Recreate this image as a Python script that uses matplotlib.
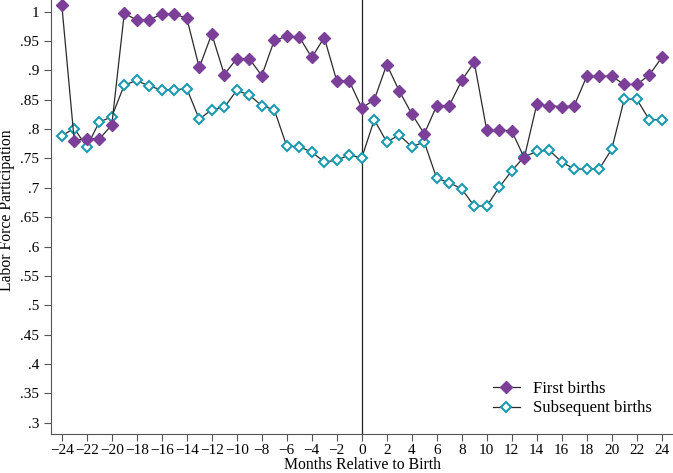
import numpy as np
import matplotlib.pyplot as plt

plt.rcParams['font.family'] = ['Liberation Serif', 'DejaVu Serif']

months = np.arange(-24, 25)
first = [1.012, 0.780, 0.784, 0.783, 0.807, 0.997, 0.986, 0.986, 0.996, 0.996,
         0.989, 0.905, 0.962, 0.893, 0.920, 0.920, 0.891, 0.951, 0.958, 0.957,
         0.922, 0.956, 0.882, 0.882, 0.836, 0.850, 0.910, 0.865, 0.826, 0.792,
         0.840, 0.840, 0.883, 0.914, 0.798, 0.798, 0.797, 0.751, 0.842, 0.840,
         0.838, 0.840, 0.890, 0.890, 0.890, 0.876, 0.876, 0.892, 0.922]
subsequent = [0.789, 0.801, 0.770, 0.812, 0.821, 0.875, 0.883, 0.873, 0.867, 0.867,
              0.869, 0.817, 0.833, 0.837, 0.866, 0.858, 0.840, 0.833, 0.771, 0.770,
              0.761, 0.744, 0.747, 0.756, 0.751, 0.816, 0.778, 0.790, 0.770, 0.778,
              0.716, 0.709, 0.698, 0.669, 0.669, 0.701, 0.729, 0.753, 0.762, 0.764,
              0.744, 0.732, 0.732, 0.732, 0.766, 0.851, 0.851, 0.816, 0.816]

yticks = np.arange(0.3, 1.0001, 0.05)
ylabels = ['1' if abs(v - 1) < 1e-9 else ('%.2f' % v).lstrip('0').rstrip('0') for v in yticks]

fig = plt.figure(figsize=(6.73, 4.73), dpi=100)
ax = fig.add_axes([0.0758, 0.0825, 0.9242, 0.9175])

ax.axvline(0, color='#222222', lw=0.9, zorder=1)
ax.plot(months, first, color='#2a2a2a', lw=0.9, marker='D', ms=6.5,
        mfc='#7b3f9a', mec='#7b3f9a', label='First births', zorder=3)
ax.plot(months, subsequent, color='#2a2a2a', lw=0.9, marker='D', ms=5.5,
        mfc='white', mec='#1a9bb0', mew=1.5, label='Subsequent births', zorder=2)

ax.set_xlim(-24.86, 24.9)
ax.set_ylim(0.2808, 1.0199)
ax.set_xticks(np.arange(-24, 25, 2))
ax.set_xticklabels([str(m).replace('-', '\u2212') for m in range(-24, 25, 2)])
ax.set_yticks(yticks)
ax.set_yticklabels(ylabels)
ax.tick_params(labelsize=11, color='#555555', length=5)
ax.tick_params(axis='x', pad=2.5)
ax.spines['top'].set_visible(False)
ax.spines['right'].set_visible(False)
ax.spines['left'].set_color('#555555')
ax.spines['bottom'].set_color('#555555')
ax.set_xlabel('Months Relative to Birth', fontsize=11.3)
ax.set_ylabel('Labor Force Participation', fontsize=11.3)
ax.xaxis.set_label_coords(0.5, -0.052)
ax.yaxis.set_label_coords(-0.058, 0.516)

ax.legend(loc='lower right', bbox_to_anchor=(0.99, 0.006), frameon=False,
          fontsize=12, handlelength=1.6, handletextpad=0.8, labelspacing=0.2)

fig.savefig('out.png', dpi=100)
